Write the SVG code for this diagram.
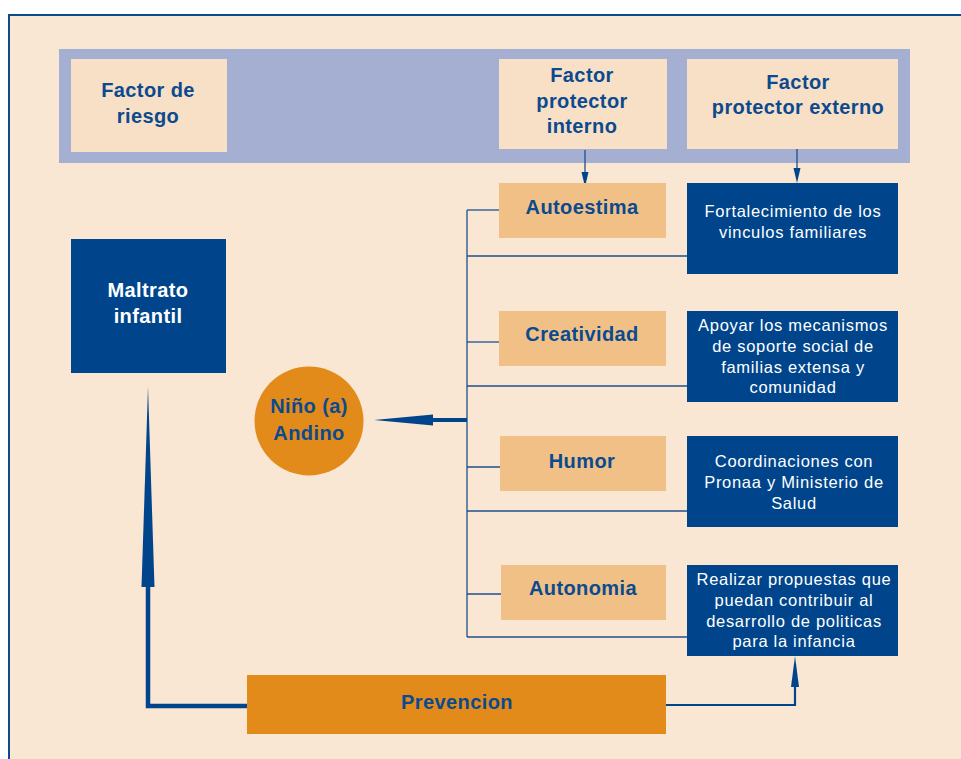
<svg xmlns="http://www.w3.org/2000/svg" width="961" height="759" viewBox="0 0 961 759">
<style>
.t{font-family:"Liberation Sans",Arial,sans-serif;text-anchor:middle}
.bh{font-weight:bold;font-size:20px;fill:#0b4a8e;letter-spacing:0.4px}
.wh{font-weight:bold;font-size:20px;fill:#ffffff;letter-spacing:0.4px}
.wt{font-size:16.5px;fill:#ffffff;letter-spacing:0.7px}
.pale{fill:#f8e0c6}
.tan{fill:#f0c087}
.navy{fill:#00458c}
.orange{fill:#e38b1a}
.ln{stroke:#1d4f8c;stroke-width:1.3;fill:none}
</style>
<rect x="0" y="0" width="961" height="759" fill="#ffffff"/>
<rect x="9" y="15" width="960" height="760" fill="#f9e7d4" stroke="#0d4a8e" stroke-width="2"/>
<rect id="band" x="59" y="49" width="851" height="114" fill="#a5afd1"/>

<g id="connectors">
<line class="ln" x1="585" y1="150" x2="585" y2="176" stroke-width="2"/>
<polygon points="581.5,172 588.5,172 585,187" fill="#00458c"/>
<line class="ln" x1="797" y1="144" x2="797" y2="172" stroke-width="2"/>
<polygon points="793.5,168 800.5,168 797,183" fill="#00458c"/>
<line class="ln" x1="467" y1="210" x2="467" y2="637"/>
<line class="ln" x1="467" y1="210" x2="499" y2="210"/>
<line class="ln" x1="467" y1="256" x2="687" y2="256"/>
<line class="ln" x1="467" y1="342" x2="499" y2="342"/>
<line class="ln" x1="467" y1="386" x2="687" y2="386"/>
<line class="ln" x1="467" y1="467" x2="500" y2="467"/>
<line class="ln" x1="467" y1="511" x2="687" y2="511"/>
<line class="ln" x1="467" y1="594" x2="501" y2="594"/>
<line class="ln" x1="467" y1="637" x2="687" y2="637"/>
<line x1="467" y1="420" x2="430" y2="420" stroke="#00458c" stroke-width="4"/>
<polygon points="433,414.5 433,425.5 374,420" fill="#00458c"/>
<polyline points="666,705 795,705 795,680" fill="none" stroke="#00458c" stroke-width="2.2"/>
<polygon points="791,687 799,687 795,656" fill="#00458c"/>
<polyline points="247,706 148,706 148,580" fill="none" stroke="#00458c" stroke-width="4.5"/>
<polygon points="141.5,587 154.5,587 148,387" fill="#00458c"/>
</g>

<g id="factor-riesgo"><rect class="pale" x="71" y="59" width="156" height="93"/>
<text class="t bh" x="148" y="97">Factor de</text><text class="t bh" x="148" y="123">riesgo</text></g>
<g id="factor-interno"><rect class="pale" x="499" y="59" width="168" height="90"/>
<text class="t bh" x="582" y="82">Factor</text><text class="t bh" x="582" y="108">protector</text><text class="t bh" x="582" y="133">interno</text></g>
<g id="factor-externo"><rect class="pale" x="687" y="59" width="211" height="90"/>
<text class="t bh" x="798" y="89">Factor</text><text class="t bh" x="798" y="114">protector externo</text></g>

<g id="maltrato"><rect class="navy" x="71" y="239" width="155" height="134"/>
<text class="t wh" x="148" y="297">Maltrato</text><text class="t wh" x="148" y="323">infantil</text></g>

<g id="nino"><circle class="orange" cx="309" cy="421" r="54.5"/>
<text class="t bh" x="309" y="413">Niño (a)</text><text class="t bh" x="309" y="440">Andino</text></g>

<g id="autoestima"><rect class="tan" x="499" y="183" width="167" height="55"/><text class="t bh" x="582" y="214">Autoestima</text></g>
<g id="creatividad"><rect class="tan" x="499" y="311" width="167" height="55"/><text class="t bh" x="582" y="341">Creatividad</text></g>
<g id="humor"><rect class="tan" x="500" y="436" width="166" height="55"/><text class="t bh" x="582" y="468">Humor</text></g>
<g id="autonomia"><rect class="tan" x="501" y="565" width="165" height="55"/><text class="t bh" x="583" y="595">Autonomia</text></g>

<g id="fortalecimiento"><rect class="navy" x="687" y="183" width="211" height="91"/>
<text class="t wt" x="793" y="217">Fortalecimiento de los</text><text class="t wt" x="793" y="238">vinculos familiares</text></g>
<g id="apoyar"><rect class="navy" x="687" y="311" width="211" height="91"/>
<text class="t wt" x="793" y="331">Apoyar los mecanismos</text><text class="t wt" x="793" y="352">de soporte social de</text><text class="t wt" x="793" y="373">familias extensa y</text><text class="t wt" x="793" y="393">comunidad</text></g>
<g id="coordinaciones"><rect class="navy" x="687" y="436" width="211" height="91"/>
<text class="t wt" x="794" y="467">Coordinaciones con</text><text class="t wt" x="794" y="488">Pronaa y Ministerio de</text><text class="t wt" x="794" y="509">Salud</text></g>
<g id="realizar"><rect class="navy" x="687" y="565" width="211" height="91"/>
<text class="t wt" x="794" y="585">Realizar propuestas que</text><text class="t wt" x="794" y="606">puedan contribuir al</text><text class="t wt" x="794" y="627">desarrollo de politicas</text><text class="t wt" x="794" y="647">para la infancia</text></g>

<g id="prevencion"><rect class="orange" x="247" y="675" width="419" height="59"/>
<text class="t bh" x="457" y="709">Prevencion</text></g>
</svg>
